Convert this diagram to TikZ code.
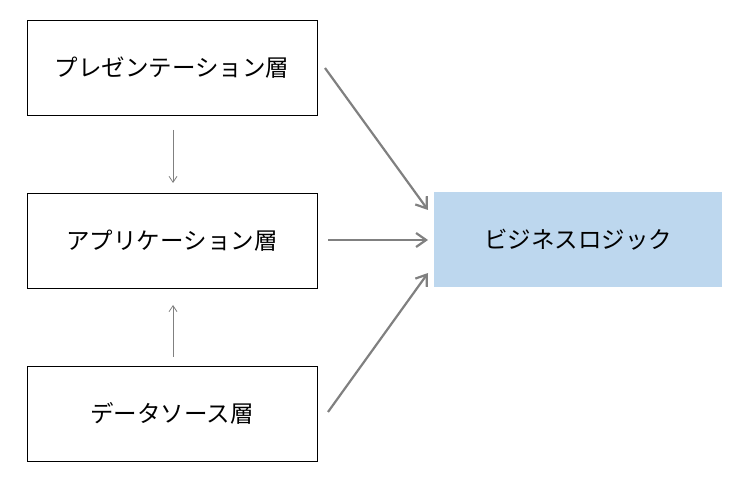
\documentclass[tikz,border=0pt]{standalone}
\usepackage{fontspec}
\newfontfamily\cjk{Noto Sans CJK JP}
\usetikzlibrary{arrows.meta}
\definecolor{bl}{HTML}{BDD7EE}
\definecolor{ag}{HTML}{808080}
\begin{document}
\begin{tikzpicture}[x=1pt,y=-1pt,
 box/.style={draw=black,line width=0.8pt,minimum width=290pt,minimum height=95pt,font=\cjk\fontsize{23.5}{26}\selectfont,inner sep=0pt},
 thin/.style={draw=ag,line width=0.8pt,-{Straight Barb[length=6pt,width=8pt]}},
 thick/.style={draw=ag,line width=2.2pt,-{Straight Barb[length=10pt,width=14pt]}}]
\useasboundingbox (0,0) rectangle (750,478);
\node[box] (p) at (172,67.5) {プレゼンテーション層};
\node[box] (a) at (172,240.5) {アプリケーション層};
\node[box] (d) at (172,413.5) {データソース層};
\node[box,draw=none,fill=bl,minimum width=288pt] (b) at (578,239.5) {ビジネスロジック};
\coordinate (p1) at (173,130); \coordinate (p2) at (173,183);
\coordinate (d1) at (173,357); \coordinate (d2) at (173,305);
\draw[thin] (p1) -- (p2);
\draw[thin] (d1) -- (d2);
\coordinate (s1) at (325,68); \coordinate (e1) at (428,210);
\coordinate (s2) at (328,240); \coordinate (e2) at (428,240);
\coordinate (s3) at (328,412); \coordinate (e3) at (428,273);
\draw[thick] (s1) -- (e1);
\draw[thick] (s2) -- (e2);
\draw[thick] (s3) -- (e3);
\end{tikzpicture}
\end{document}
